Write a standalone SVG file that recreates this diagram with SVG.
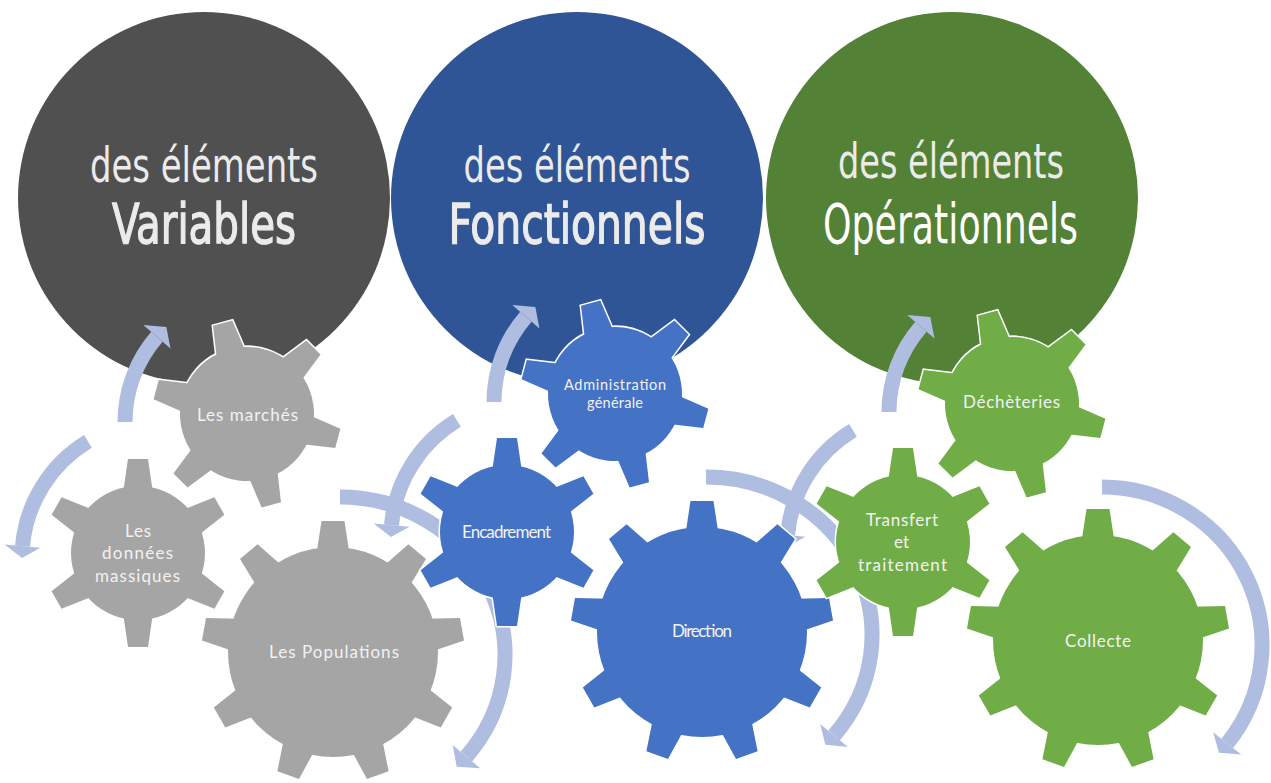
<svg xmlns="http://www.w3.org/2000/svg" width="1271" height="783" viewBox="0 0 1271 783">
<defs>
<style>
.big{font-family:'Liberation Sans Narrow','DejaVu Sans Condensed','Liberation Sans',sans-serif;fill:#EBEBEB;text-anchor:middle}
.t1{font-size:48px}
.t2{font-size:56px;stroke:#EBEBEB;stroke-width:1.3}
.t3{font-size:56px;fill:#FFFFFF}
.lbl{font-family:Lato,'Open Sans','Liberation Sans',sans-serif;font-size:17px;fill:#F2F2F2;text-anchor:middle}
.sm{font-size:14.5px}
.band{fill:none;stroke:#AFBDE1;stroke-width:15}
.head{fill:#AFBDE1}
.ol{stroke:#FFFFFF;stroke-width:3}
</style>
<path id="t6" d="M-15,-60L-10,-94L10,-94L15,-60Z"/>
<path id="t9" d="M-16.5,-98L-11.5,-131L11.5,-131L16.5,-98Z"/>
<g id="g6">
<circle r="67"/>
<use href="#t6"/>
<use href="#t6" transform="rotate(60)"/>
<use href="#t6" transform="rotate(120)"/>
<use href="#t6" transform="rotate(180)"/>
<use href="#t6" transform="rotate(240)"/>
<use href="#t6" transform="rotate(300)"/>
</g>
<g id="g9">
<circle r="105"/>
<use href="#t9"/>
<use href="#t9" transform="rotate(40)"/>
<use href="#t9" transform="rotate(80)"/>
<use href="#t9" transform="rotate(120)"/>
<use href="#t9" transform="rotate(160)"/>
<use href="#t9" transform="rotate(200)"/>
<use href="#t9" transform="rotate(240)"/>
<use href="#t9" transform="rotate(280)"/>
<use href="#t9" transform="rotate(320)"/>
</g>
</defs>
<rect width="1271" height="783" fill="#FFFFFF"/>

<g id="circle-variables">
<circle cx="204" cy="198" r="186" fill="#505050"/>
<text class="big t1" x="204" y="182" textLength="228" lengthAdjust="spacingAndGlyphs">des éléments</text>
<text class="big t2" x="204" y="243" textLength="184" lengthAdjust="spacingAndGlyphs">Variables</text>
</g>
<g id="circle-fonctionnels">
<circle cx="577" cy="198" r="186" fill="#2F5597"/>
<text class="big t1" x="577" y="182" textLength="227" lengthAdjust="spacingAndGlyphs">des éléments</text>
<text class="big t2" x="577" y="243" textLength="257" lengthAdjust="spacingAndGlyphs">Fonctionnels</text>
</g>
<g id="circle-operationnels">
<circle cx="952" cy="198" r="186" fill="#538135"/>
<text class="big t1" x="951" y="178" textLength="226" lengthAdjust="spacingAndGlyphs">des éléments</text>
<text class="big t3" x="950.5" y="243" textLength="255" lengthAdjust="spacingAndGlyphs">Opérationnels</text>
</g>

<g id="connectors">
<path class="band" d="M125,422 A130,130 0 0 1 156.89,336.71"/>
<polygon class="head" points="143.30,324.90 166.34,326.92 170.47,348.52"/>
<path class="band" d="M87.96,441.42 A136,136 0 0 0 22.52,546.14"/>
<polygon class="head" points="4.59,544.57 22,558 40.45,547.71"/>
<path class="band" d="M340,497 A165,158 0 0 1 466.39,756.56"/>
<polygon class="head" points="480.18,768.13 456.67,766.72 452.60,744.99"/>

<path class="band" d="M494,402 A130,130 0 0 1 525.89,316.71"/>
<polygon class="head" points="512.30,304.90 535.34,306.92 539.47,328.52"/>
<path class="band" d="M456.96,420.42 A136,136 0 0 0 391.52,525.14"/>
<polygon class="head" points="373.59,523.57 391,537 409.45,526.71"/>
<path class="band" d="M706,477 A166,158 0 0 1 834.09,735.50"/>
<polygon class="head" points="847.97,746.95 825.40,744.76 820.20,724.05"/>

<path class="band" d="M889,412 A130,130 0 0 1 920.89,326.71"/>
<polygon class="head" points="907.30,314.90 930.34,316.92 934.47,338.52"/>
<path class="band" d="M852.96,430.42 A136,136 0 0 0 787.52,535.14"/>
<polygon class="head" points="769.59,533.57 787,547 805.45,536.71"/>
<path class="band" d="M1102,487 A160,158 0 0 1 1227.22,743.36"/>
<polygon class="head" points="1241.30,754.56 1219.02,752.76 1213.13,732.15"/>
</g>

<g id="gear-marches">
<use href="#g6" class="ol" fill="#A5A5A5" transform="translate(247,414) rotate(-15)"/>
<use href="#g6" fill="#A5A5A5" transform="translate(247,414) rotate(-15)"/>
<text class="lbl" x="247.5" y="421" textLength="101">Les marchés</text>
</g>
<g id="gear-donnees">
<use href="#g6" class="ol" fill="#A5A5A5" transform="translate(138,553)"/>
<use href="#g6" fill="#A5A5A5" transform="translate(138,553)"/>
<text class="lbl" x="138" y="537" textLength="26">Les</text>
<text class="lbl" x="137.5" y="559" textLength="71">données</text>
<text class="lbl" x="137.5" y="582" textLength="85">massiques</text>
</g>
<g id="gear-populations">
<use href="#g9" class="ol" fill="#A5A5A5" transform="translate(333,652)"/>
<use href="#g9" fill="#A5A5A5" transform="translate(333,652)"/>
<text class="lbl" x="334" y="658" textLength="130">Les Populations</text>
</g>

<g id="gear-administration">
<use href="#g6" class="ol" fill="#4472C4" transform="translate(615,394) rotate(-15)"/>
<use href="#g6" fill="#4472C4" transform="translate(615,394) rotate(-15)"/>
<text class="lbl sm" x="615" y="390" textLength="102">Administration</text>
<text class="lbl sm" x="615" y="408" textLength="56">générale</text>
</g>
<g id="gear-encadrement">
<use href="#g6" class="ol" fill="#4472C4" transform="translate(507,532)"/>
<use href="#g6" fill="#4472C4" transform="translate(507,532)"/>
<text class="lbl" x="506.5" y="538" textLength="89">Encadrement</text>
</g>
<g id="gear-direction">
<use href="#g9" class="ol" fill="#4472C4" transform="translate(702,632)"/>
<use href="#g9" fill="#4472C4" transform="translate(702,632)"/>
<text class="lbl" x="702" y="637" textLength="60">Direction</text>
</g>

<g id="gear-decheteries">
<use href="#g6" class="ol" fill="#70AD47" transform="translate(1012,404) rotate(-15)"/>
<use href="#g6" fill="#70AD47" transform="translate(1012,404) rotate(-15)"/>
<text class="lbl" x="1011.5" y="408" textLength="97">Déchèteries</text>
</g>
<g id="gear-transfert">
<use href="#g6" class="ol" fill="#70AD47" transform="translate(903,542)"/>
<use href="#g6" fill="#70AD47" transform="translate(903,542)"/>
<text class="lbl" x="902" y="526" textLength="72">Transfert</text>
<text class="lbl" x="901.5" y="548" textLength="15">et</text>
<text class="lbl" x="902.5" y="571" textLength="89">traitement</text>
</g>
<g id="gear-collecte">
<use href="#g9" class="ol" fill="#70AD47" transform="translate(1098,640)"/>
<use href="#g9" fill="#70AD47" transform="translate(1098,640)"/>
<text class="lbl" x="1098" y="647" textLength="66">Collecte</text>
</g>
</svg>
